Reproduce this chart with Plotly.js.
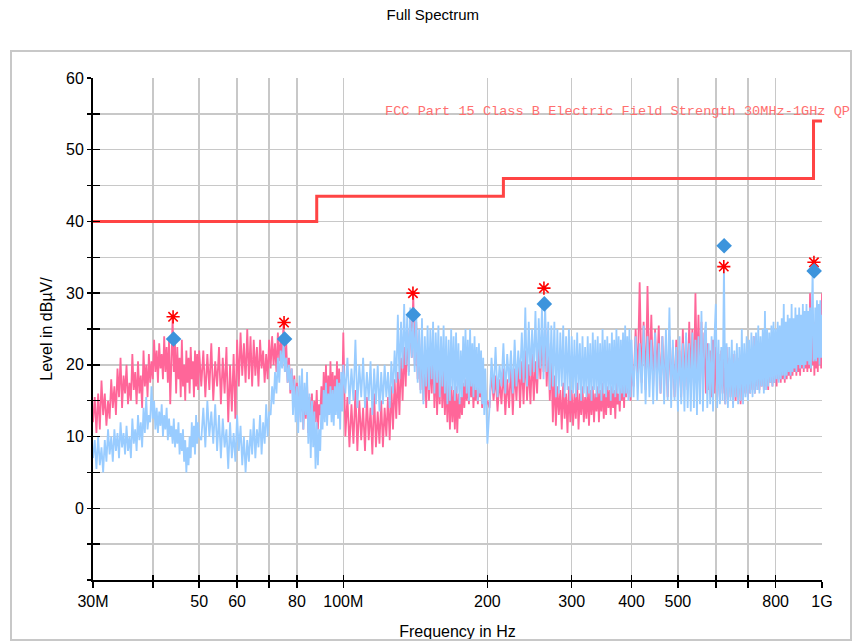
<!DOCTYPE html>
<html>
<head>
<meta charset="utf-8">
<script src="https://cdn.plot.ly/plotly-3.0.1.min.js"></script>
<style>
  html, body { margin: 0; padding: 0; background: #ffffff; }
  #wrap { position: relative; width: 857px; height: 642px; }
  #chart { position: absolute; left: 0; top: 0; width: 857px; height: 642px; }
  #frame { position: absolute; left: 10px; top: 50px; width: 842px; height: 591px;
           border: 2px solid #c8c8c8; box-sizing: border-box; pointer-events: none; }
</style>
</head>
<body>
<div id="wrap">
  <div id="chart"></div>
  <div id="frame"></div>
</div>
<script>
// ---- Data (frequencies in MHz, levels in dBµV/m) ----
const freqMHz = [
  30, 30.25, 30.5, 30.75, 31, 31.25, 31.5, 31.75, 32, 32.25,
  32.5, 32.75, 33, 33.25, 33.5, 33.75, 34, 34.25, 34.5, 34.75,
  35, 35.25, 35.5, 35.75, 36, 36.25, 36.5, 36.75, 37, 37.25,
  37.5, 37.75, 38, 38.25, 38.5, 38.75, 39, 39.25, 39.5, 39.75,
  40, 40.25, 40.5, 40.75, 41, 41.25, 41.5, 41.75, 42, 42.25,
  42.5, 42.75, 43, 43.25, 43.5, 43.75, 44, 44.25, 44.5, 44.75,
  45, 45.25, 45.5, 45.75, 46, 46.25, 46.5, 46.75, 47, 47.25,
  47.5, 47.75, 48, 48.25, 48.5, 48.75, 49, 49.25, 49.5, 49.75,
  50,
  50.5, 51, 51.5, 52, 52.5, 53, 53.5, 54, 54.5, 55,
  55.5, 56, 56.5, 57, 57.5, 58, 58.5, 59, 59.5, 60,
  60.5, 61, 61.5, 62, 62.5, 63, 63.5, 64, 64.5, 65,
  65.5, 66, 66.5, 67, 67.5, 68, 68.5, 69, 69.5, 70,
  70.5, 71, 71.5, 72, 72.5, 73, 73.5, 74, 74.5, 75,
  75.5, 76, 76.5, 77, 77.5, 78, 78.5, 79, 79.5, 80,
  80.5, 81, 81.5, 82, 82.5, 83, 83.5, 84, 84.5, 85,
  85.5, 86, 86.5, 87, 87.5, 88, 88.5, 89, 89.5, 90,
  90.5, 91, 91.5, 92, 92.5, 93, 93.5, 94, 94.5, 95,
  95.5, 96, 96.5, 97, 97.5, 98, 98.5, 99, 99.5, 100,
  101, 102, 103, 104, 105, 106, 107, 108, 109, 110,
  111, 112, 113, 114, 115, 116, 117, 118, 119, 120,
  121, 122, 123, 124, 125, 126, 127, 128, 129, 130,
  131, 132, 133, 134, 135, 136, 137, 138, 139, 140,
  141, 142, 143, 144, 145, 146, 147, 148, 149, 150,
  151, 152, 153, 154, 155, 156, 157, 158, 159, 160,
  161, 162, 163, 164, 165, 166, 167, 168, 169, 170,
  171, 172, 173, 174, 175, 176, 177, 178, 179, 180,
  181, 182, 183, 184, 185, 186, 187, 188, 189, 190,
  191, 192, 193, 194, 195, 196, 197, 198, 199, 200,
  202, 204, 206, 208, 210, 212, 214, 216, 218, 220,
  222, 224, 226, 228, 230, 232, 234, 236, 238, 240,
  242, 244, 246, 248, 250, 252, 254, 256, 258, 260,
  262, 264, 266, 268, 270, 272, 274, 276, 278, 280,
  282, 284, 286, 288, 290, 292, 294, 296, 298, 300,
  302, 304, 306, 308, 310, 312, 314, 316, 318, 320,
  322, 324, 326, 328, 330, 332, 334, 336, 338, 340,
  342, 344, 346, 348, 350, 352, 354, 356, 358, 360,
  362, 364, 366, 368, 370, 372, 374, 376, 378, 380,
  382, 384, 386, 388, 390, 392, 394, 396, 398, 400,
  404, 408, 412, 416, 420, 424, 428, 432, 436, 440,
  444, 448, 452, 456, 460, 464, 468, 472, 476, 480,
  484, 488, 492, 496, 500, 504, 508, 512, 516, 520,
  524, 528, 532, 536, 540, 544, 548, 552, 556, 560,
  564, 568, 572, 576, 580, 584, 588, 592, 596, 600,
  604, 608, 612, 616, 620, 624, 628, 632, 636, 640,
  644, 648, 652, 656, 660, 664, 668, 672, 676, 680,
  684, 688, 692, 696, 700, 704, 708, 712, 716, 720,
  724, 728, 732, 736, 740, 744, 748, 752, 756, 760,
  764, 768, 772, 776, 780, 784, 788, 792, 796, 800,
  804, 808, 812, 816, 820, 824, 828, 832, 836, 840,
  844, 848, 852, 856, 860, 864, 868, 872, 876, 880,
  884, 888, 892, 896, 900, 904, 908, 912, 916, 920,
  924, 928, 932, 936, 940, 944, 948, 952, 956, 960,
  964, 968, 972, 976, 980, 984, 988, 992, 996, 1000
];

const pinkLevel = [
  12, 15.5, 10.5, 16, 11, 17.8, 13, 16, 11.5, 15,
  12.5, 18, 14, 17, 13, 19.5, 15.5, 21, 14, 18.5,
  16, 20, 14.5, 17.5, 15, 21.5, 16.5, 19, 14.5, 20.5,
  16, 18.5, 14, 22, 17, 20, 15.5, 21.5, 17.5, 20.5,
  18, 23.5, 19, 22, 17.5, 23, 19.5, 21.5, 18, 24,
  19, 22.5, 17.5, 23.5, 14.5, 21, 26.5, 19, 23, 16,
  22.5, 18, 21, 15.5, 23.5, 17, 20, 15, 22, 17.5,
  21, 16, 22.5, 18, 20.5, 15.5, 22, 17, 21.5, 16.5,
  22,
  17, 22, 15.5, 21.5, 16.5, 23, 15, 20.5, 17, 22.5,
  14.5, 21, 16, 22.5, 12, 20, 13.5, 21.5, 12.5, 23.5,
  17, 24.5, 18.5, 23, 17.5, 25, 18, 24, 17, 23.5,
  18.5, 22.5, 17, 23.5, 19.5, 22, 17.5, 21.5, 18, 23.5,
  19.5, 24, 20, 23, 19, 24.5, 20.5, 23.5, 21, 25.8,
  19, 23, 17.5, 21, 16, 19.5, 15.5, 18.5, 14.5, 17.5,
  12, 17, 13.5, 18, 11, 16.5, 12.5, 17.5, 10.5, 15.5,
  11.5, 16, 10.5, 15, 12, 16.5, 11, 14.5, 13, 17,
  12.5, 19, 14, 20, 12.5, 18.5, 13.5, 20.5, 14, 19,
  13, 18.5, 14.5, 20.5, 13.5, 19.5, 14, 18, 15, 24.5,
  10, 15.5, 8.5, 14.5, 9, 16.5, 8, 15, 9.5, 14,
  8, 15.5, 9.5, 14, 7.5, 16, 8.5, 13.5, 9, 15,
  8.5, 14, 10, 15.5, 9.5, 17, 11, 18, 12.5, 19,
  13, 21, 15, 22.5, 17, 25, 19, 27.5, 21, 30,
  20, 26, 18, 24, 16.5, 23, 15, 21.5, 14, 22,
  15, 21, 16, 22, 14, 20.5, 13, 19.5, 14.5, 21,
  14, 19.5, 13, 18, 12, 18.5, 11, 17, 12, 16.5,
  11, 17, 10.5, 16, 12.5, 15.5, 13, 17.5, 14, 18,
  15, 18, 14.5, 19, 15.5, 18.5, 14, 17.5, 15, 19,
  14.5, 18, 15.5, 17, 14, 18.5, 15, 16.5, 14.5, 15,
  14, 19, 15, 18.5, 13.5, 18, 14.5, 19.5, 13, 18,
  14, 20, 13, 19.5, 15, 21, 14, 20.5, 14.5, 22,
  15, 20, 14.5, 21.5, 15, 20.5, 16, 23, 18, 24,
  19, 26, 17, 23, 15, 21, 12, 18.5, 11.5, 17,
  13, 16.5, 11, 17.5, 12.5, 16, 10.5, 17, 12, 16.5,
  11.5, 16, 12.5, 17.5, 11, 16, 13, 17, 12, 15.5,
  12.5, 17, 11.5, 16.5, 13, 17, 12, 16, 13.5, 17,
  12, 16.5, 13.5, 17.5, 12.5, 16, 13, 17, 14, 16.5,
  13, 17, 14, 16.5, 12.5, 17.5, 14.5, 16, 13.5, 18,
  15, 19, 14, 20, 15.5, 19.5, 16, 21, 15, 19,
  17, 25, 18, 31.5, 17.5, 26, 16.5, 31, 18, 27,
  17, 25, 18.5, 25.5, 16, 24, 17, 23, 15.5, 24,
  16.5, 22.5, 15.5, 23.5, 16, 22, 15.5, 25, 17, 24,
  16.5, 26, 18, 25, 17, 30, 18.5, 27, 17.5, 26,
  17, 24.5, 16, 23, 16.5, 22, 15.5, 23.5, 16, 22.5,
  15.5, 21.5, 15, 22, 16, 21, 14.5, 22.5, 15, 21,
  15.5, 20.5, 14.5, 21.5, 15, 20, 15.5, 21, 14.5, 22,
  15, 20.5, 16, 21.5, 15.5, 22, 16, 21, 16.5, 24,
  16, 22.5, 17, 21.5, 16.5, 22, 17, 23, 16.5, 22,
  17, 22.5, 16.5, 23.5, 17.5, 22, 17, 23, 17.5, 22.5,
  17, 24, 18, 23, 17.5, 24.5, 18, 23.5, 17.5, 24,
  18, 23.5, 18.5, 24.5, 18, 25, 18.5, 24, 19, 25,
  18.5, 24.5, 19, 25.5, 18.5, 24, 19.5, 25, 19, 26,
  19.5, 25, 19, 26, 19.5, 30, 19, 25.5, 20, 25,
  18.5, 26, 19.5, 27, 19, 26.5, 20, 27.5, 19.5, 30
];

const blueLevel = [
  7, 9.5, 5.5, 10, 6, 8.5, 5, 9.5, 6.5, 11,
  7.5, 10, 6.5, 11, 8, 10.5, 7, 12, 8.5, 10.5,
  7.5, 11.5, 8, 10, 7, 12.5, 9, 11, 8, 13,
  9.5, 12, 8.5, 14, 10.5, 15.5, 11, 13, 12, 17,
  12.5, 15, 11, 14, 10.5, 13.5, 11.5, 14.5, 10, 13,
  11, 14, 9.5, 12.5, 10, 11.5, 9, 12.5, 8.5, 11,
  9, 12, 7.5, 10.5, 8, 11, 6.5, 9.5, 5, 8.5,
  6, 10, 7, 12, 8.5, 11.5, 7.5, 13, 9, 12,
  10,
  9.5, 14, 8.5, 15, 10, 13.5, 9, 14.5, 8, 13,
  7, 12.5, 8.5, 11, 5.5, 12, 7, 10.5, 6.5, 13,
  8, 11.5, 6, 10, 5, 9.5, 6.5, 11, 7.5, 12.5,
  7, 11, 8.5, 13, 7.5, 12, 9, 14.5, 10, 13.5,
  13, 17, 14.5, 19, 16, 21, 17.5, 22, 19.5, 23,
  19, 21, 17.5, 20, 16.5, 19.5, 13, 18, 12, 17,
  10.5, 18.5, 12, 19.5, 11, 17.5, 13, 19, 9, 16,
  7, 15, 8.5, 13.5, 5.5, 12, 6, 11, 8, 14.5,
  11, 16.5, 12, 17.5, 11.5, 16, 13, 17, 12, 16.5,
  11.5, 17, 13, 18, 12.5, 17.5, 11, 19, 13.5, 20,
  16, 21, 14.5, 19.5, 15, 23.5, 14, 20, 15.5, 21,
  14, 19, 15, 20.5, 13, 19.5, 14.5, 20, 13.5, 19,
  14.5, 20, 15.5, 19, 14, 20.5, 16, 22, 17.5, 27,
  18, 26, 19.5, 28.5, 20, 27, 18.5, 28, 21, 26,
  19, 27.5, 17.5, 25, 16, 26.5, 14.5, 24, 17, 25.5,
  16.5, 25, 18, 26, 16, 24.5, 17.5, 25.5, 15.5, 24,
  17, 25.5, 16, 24, 14.5, 23.5, 15, 25, 16.5, 24,
  15, 24.5, 16, 23, 14.5, 22, 15.5, 24, 17, 25,
  16, 23.5, 15, 25, 17, 23, 15.5, 24, 16.5, 22.5,
  15, 23, 16, 22, 14.5, 21, 13, 19.5, 12, 9,
  14, 21, 16, 22.5, 15.5, 20, 17, 23, 16, 21.5,
  17.5, 22, 16, 23.5, 17, 22, 18, 24.5, 17.5, 28,
  17, 26, 18.5, 25, 19, 27.5, 18, 26.5, 19.5, 28,
  18, 28.5, 19, 26, 16.5, 25.5, 17, 26, 15.5, 25,
  16, 24.5, 17, 25.5, 15.5, 24, 16.5, 25, 15, 24,
  16, 23.5, 15.5, 24.5, 16.5, 23, 15, 24, 16, 22.5,
  15.5, 24, 16, 23, 15, 24.5, 16.5, 23.5, 15.5, 24,
  16, 23, 15, 25, 16, 23.5, 15.5, 24, 16.5, 23,
  15, 24.5, 16, 23.5, 15.5, 25, 16, 24, 15, 23.5,
  16, 24.5, 15.5, 25.5, 16, 24, 15, 25, 15.5, 23.5,
  15.5, 24, 15, 23, 16, 25.5, 14.5, 24, 15.5, 23.5,
  14.5, 24.5, 15, 23, 16, 24, 14.5, 25, 15, 28,
  14, 23.5, 15, 22.5, 13.5, 24, 14.5, 23, 13.5, 24.5,
  14, 23, 13.5, 24.5, 14, 23.5, 13, 24, 14.5, 27.5,
  13.5, 24, 26, 14, 23, 14.5, 24, 13.5, 23.5, 28.5,
  14, 23.5, 14.5, 22.5, 15, 34, 14.5, 23, 14, 22.5,
  15, 23.5, 14, 22, 15.5, 23, 14.5, 22.5, 15, 25,
  14.5, 23, 15.5, 24, 15, 23.5, 16, 24.5, 15.5, 24,
  16, 24.5, 16.5, 25.5, 16, 24, 17, 25, 16, 27.5,
  16.5, 25, 17, 24.5, 17.5, 25.5, 17, 26, 17.5, 25,
  18, 26, 17.5, 25.5, 18, 26.5, 18.5, 28.5, 18, 26,
  18.5, 27, 19, 26.5, 18.5, 28.5, 19, 26.5, 19.5, 28,
  19, 27, 20, 28, 19.5, 27, 20, 28.5, 19.5, 27.5,
  20, 28.5, 20.5, 27.5, 20, 28, 19.5, 29, 33.5, 20.5,
  21, 28, 20.5, 29, 21, 28.5, 20, 29, 21, 27
];

// Limit line: FCC Part 15 Class B
const limitFreqMHz = [30, 88, 88, 216, 216, 960, 960, 1000];
const limitLevel   = [40, 40, 43.5, 43.5, 46, 46, 54, 54];
const limitLabel = 'FCC Part 15 Class B Electric Field Strength 30MHz-1GHz QP';

// Peak markers
const peakFreqMHz  = [44.1, 75.2, 139.8, 262.5, 623.5, 962];
const peakLevel    = [26.7, 25.9, 30.0, 30.7, 33.7, 34.3];
const finalFreqMHz = [44.2, 75.4, 140.0, 263.0, 624.5, 963];
const finalLevel   = [23.6, 23.6, 27.0, 28.5, 36.6, 33.1];

// Axis ticks
const xTickVals = [30, 40, 50, 60, 70, 80, 100, 200, 300, 400, 500, 600, 700, 800, 1000];
const xTickText = ['30M', '', '50', '60', '', '80', '100M', '200', '300', '400', '500', '', '', '800', '1G'];
const yTickVals = [-10, -5, 0, 5, 10, 15, 20, 25, 30, 35, 40, 45, 50, 55, 60];
const yTickText = ['', '', '0', '', '10', '', '20', '', '30', '', '40', '', '50', '', '60'];

// ---- Plot ----
const FONT = 'Liberation Sans, Arial, sans-serif';
const xRange = [Math.log10(30), Math.log10(1000)];
const yRange = [-10, 60];

const traces = [
  { x: freqMHz, y: pinkLevel, type: 'scatter', mode: 'lines',
    line: { color: '#ff6699', width: 1.8 }, hoverinfo: 'skip' },
  { x: freqMHz, y: blueLevel, type: 'scatter', mode: 'lines',
    line: { color: '#99ccff', width: 1.8 }, hoverinfo: 'skip' },
  { x: limitFreqMHz, y: limitLevel, type: 'scatter', mode: 'lines',
    line: { color: '#ff4444', width: 3 }, hoverinfo: 'skip' },
  { x: peakFreqMHz, y: peakLevel, type: 'scatter', mode: 'markers',
    marker: { symbol: 'asterisk-open', size: 11, color: '#ff0000',
              line: { color: '#ff0000', width: 1.6 } }, hoverinfo: 'skip' },
  { x: finalFreqMHz, y: finalLevel, type: 'scatter', mode: 'markers',
    marker: { symbol: 'diamond', size: 12, color: '#3d94dc',
              line: { width: 0 } }, hoverinfo: 'skip' },
  { x: [], y: [], xaxis: 'x2', yaxis: 'y2', type: 'scatter', mode: 'markers', hoverinfo: 'skip' }
];

const layout = {
  width: 857, height: 642,
  margin: { l: 93, r: 35, t: 78, b: 62 },
  paper_bgcolor: 'rgba(0,0,0,0)',
  plot_bgcolor: '#ffffff',
  showlegend: false,
  font: { family: FONT, color: '#000000', size: 16 },
  title: { text: 'Full Spectrum', font: { family: FONT, size: 15, color: '#000' },
           x: 0.505, xanchor: 'center', xref: 'container',
           y: 0.977, yanchor: 'middle', yref: 'container' },
  xaxis: {
    type: 'log', range: xRange, tickmode: 'array', tickvals: xTickVals, ticktext: xTickText,
    ticks: 'outside', ticklen: 6, tickwidth: 1.5, tickcolor: '#000',
    showline: true, linecolor: '#000', linewidth: 2,
    showgrid: true, gridcolor: '#c8c8c8', gridwidth: 1.5, zeroline: false,
    tickfont: { family: FONT, size: 16, color: '#000' },
    title: { text: 'Frequency in Hz', font: { family: FONT, size: 16, color: '#000' }, standoff: 17 },
    automargin: false
  },
  yaxis: {
    range: yRange, tickmode: 'array', tickvals: yTickVals, ticktext: yTickText,
    ticks: 'outside', ticklen: 4, tickwidth: 1.5, tickcolor: '#000',
    showline: true, linecolor: '#000', linewidth: 2,
    showgrid: true, gridcolor: '#c8c8c8', gridwidth: 1.5, zeroline: false,
    tickfont: { family: FONT, size: 16, color: '#000' },
    title: { text: 'Level in dBµV/', font: { family: FONT, size: 16, color: '#000' }, standoff: 9 },
    automargin: false
  },
  xaxis2: {
    type: 'log', range: xRange, overlaying: 'x', anchor: 'y2', side: 'bottom',
    tickmode: 'array', tickvals: xTickVals, ticks: 'inside', ticklen: 5, tickwidth: 1.5,
    tickcolor: '#000', showticklabels: false, showgrid: false, showline: false, zeroline: false
  },
  yaxis2: {
    range: yRange, overlaying: 'y', anchor: 'x2', side: 'left',
    tickmode: 'array', tickvals: yTickVals, ticks: 'inside', ticklen: 7, tickwidth: 1.5,
    tickcolor: '#000', showticklabels: false, showgrid: false, showline: false, zeroline: false
  },
  annotations: [{
    x: Math.log10(121), y: 55.3, xref: 'x', yref: 'y',
    text: limitLabel, showarrow: false, xanchor: 'left', yanchor: 'middle',
    font: { family: 'Liberation Mono, DejaVu Sans Mono, monospace', size: 13.6, color: '#ff6f6f' }
  }]
};

Plotly.newPlot('chart', traces, layout, { staticPlot: true, displayModeBar: false });
</script>
</body>
</html>
